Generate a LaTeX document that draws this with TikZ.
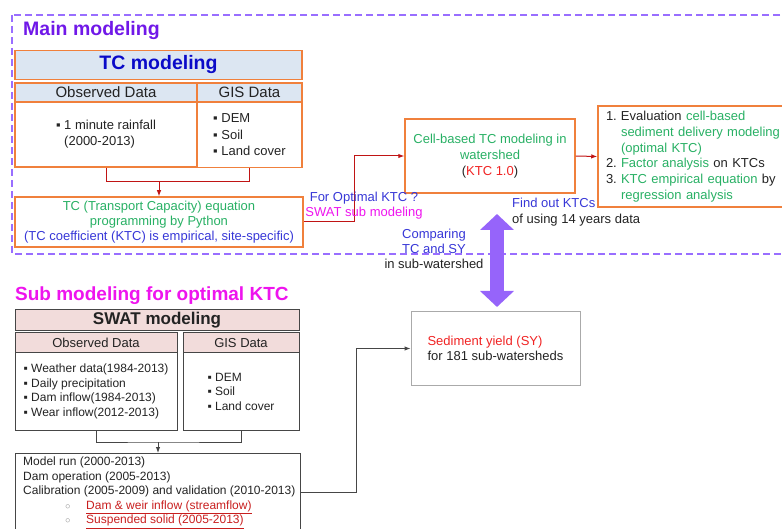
\documentclass[tikz,border=0pt]{standalone}
\usepackage{fontspec}
\setmainfont{Liberation Sans}
\usetikzlibrary{arrows.meta}

\definecolor{frameviolet}{RGB}{153,110,255}
\definecolor{titleviolet}{RGB}{112,24,232}
\definecolor{arrviolet}{RGB}{150,100,250}
\definecolor{tcorange}{RGB}{240,128,60}
\definecolor{headblue}{RGB}{220,230,242}
\definecolor{tcblue}{RGB}{10,10,200}
\definecolor{kgreen}{RGB}{40,176,100}
\definecolor{kblue}{RGB}{55,55,215}
\definecolor{kmagenta}{RGB}{238,20,238}
\definecolor{kred}{RGB}{240,35,35}
\definecolor{linered}{RGB}{192,20,20}
\definecolor{ulred}{RGB}{200,30,30}
\definecolor{pinkfill}{RGB}{242,220,219}
\definecolor{boxgray}{RGB}{70,70,70}
\definecolor{lightgray}{RGB}{170,170,170}
\definecolor{inkblack}{RGB}{35,35,35}

\newcommand\fsbody{\fontsize{13}{16}\selectfont}
\newcommand\fssub{\fontsize{12}{14.5}\selectfont}

\tikzset{
  lbl/.style={inner sep=0pt, text=inkblack, font=\fsbody},
  orangebox/.style={lbl, draw=tcorange, line width=1.5pt},
  bluehead/.style={orangebox, fill=headblue, font=\fontsize{15}{18}\selectfont},
  pinkhead/.style={lbl, draw=boxgray, line width=1pt, fill=pinkfill, font=\fontsize{13}{16}\selectfont},
  graybody/.style={lbl, draw=boxgray, line width=1pt, font=\fssub},
  mainframe/.style={draw=frameviolet, line width=1.8pt, dash pattern=on 7pt off 4pt},
  redline/.style={draw=linered, line width=1pt},
  grayline/.style={draw=boxgray, line width=1pt},
  flowtip/.style={-{Latex[length=6pt,width=4.5pt]}},
  twoway/.style={draw=arrviolet, line width=14pt,
    {Triangle[width=33pt,length=16pt]}-{Triangle[width=33pt,length=16pt]}}
}

\begin{document}
\begin{tikzpicture}[x=1pt,y=-1pt]
\useasboundingbox (0,0) rectangle (782,529);
\clip (0,0) rectangle (782,529);

% main modeling
\draw[mainframe] (12,15) rectangle (795,254);
\node[lbl, anchor=west, text=titleviolet, font=\fontsize{19.5}{22}\selectfont\bfseries] (maintitle) at (23,31) {Main modeling};

\node[bluehead, minimum width=287pt, minimum height=29pt, text=tcblue, font=\fontsize{19.5}{22}\selectfont\bfseries] (tchead) at (158.5,65) {TC modeling};
\node[bluehead, minimum width=182pt, minimum height=19pt] (tcobshead) at (106,92.5) {Observed Data};
\node[bluehead, minimum width=105pt, minimum height=19pt] (tcgishead) at (249.5,92.5) {GIS Data};
\node[orangebox, minimum width=182pt, minimum height=65pt, align=left] (tcobs) at (106,134.5) {▪ 1 minute rainfall\\\hphantom{▪ }(2000-2013)};
\node[orangebox, minimum width=105pt, minimum height=65pt, align=left, font=\fontsize{13}{16.5}\selectfont] (tcgis) at (249.5,135) {▪ DEM\\▪ Soil\\▪ Land cover};

\node[orangebox, minimum width=288pt, minimum height=50pt, align=center, font=\fontsize{13}{15}\selectfont] (tceq) at (159,222)
  {\textcolor{kgreen}{TC (Transport Capacity) equation}\\
   \textcolor{kgreen}{programming by Python}\\
   \textcolor{kblue}{(TC coefficient (KTC) is empirical, site-specific)}};

\coordinate (tcjoin) at ([yshift=15pt]tceq.north);
\draw[redline] (tcobs.south) |- (tcjoin) -| (tcgis.south);
\draw[redline, flowtip] (tcjoin) -- (tceq.north);

\node[orangebox, minimum width=170pt, minimum height=74pt, align=center] (cell) at (490,156)
  {\textcolor{kgreen}{Cell-based TC modeling in}\\
   \textcolor{kgreen}{watershed}\\
   (\textcolor{kred}{KTC 1.0})};
\node[orangebox, text width=189pt, inner xsep=8pt, minimum height=101pt, align=left, font=\fontsize{13}{15.7}\selectfont] (eval) at (700.5,156.5)
  {\makebox[15pt][l]{1.}Evaluation \textcolor{kgreen}{cell-based}\\
   \hspace*{15pt}\textcolor{kgreen}{sediment delivery modeling}\\
   \hspace*{15pt}\textcolor{kgreen}{(optimal KTC)}\\
   \makebox[15pt][l]{2.}\textcolor{kgreen}{Factor analysis} on KTCs\\
   \makebox[15pt][l]{3.}\textcolor{kgreen}{KTC empirical equation} by\\
   \hspace*{15pt}\textcolor{kgreen}{regression analysis}};

\draw[redline, flowtip] (tceq.east) -- ++(51,0) |- (cell.west);
\draw[redline, flowtip] (cell.east) -- (eval.west);

\node[lbl, align=center, font=\fontsize{13}{15}\selectfont] (optlbl) at (364,206)
  {\textcolor{kblue}{For Optimal KTC ?}\\\textcolor{kmagenta}{SWAT sub modeling}};
\node[lbl, anchor=west, align=left] (findlbl) at (512,212)
  {\textcolor{kblue}{Find out KTCs}\\of using 14 years data};

% comparing TC and SY
\coordinate (arrtop) at (497,214);
\coordinate (arrbot) at (497,307);
\draw[twoway] (arrtop) -- (arrbot);
\node[lbl, align=center, font=\fontsize{13}{15}\selectfont] (cmplbl) at (434,249)
  {\textcolor{kblue}{Comparing}\\\textcolor{kblue}{TC and SY}\\in sub-watershed};

\node[lbl, draw=lightgray, line width=1pt, minimum width=169pt, minimum height=73pt, align=left, font=\fontsize{13}{15}\selectfont] (sy) at (495.5,348.5)
  {\textcolor{kred}{Sediment yield (SY)}\\for 181 sub-watersheds};

% sub modeling
\node[lbl, anchor=west, text=kmagenta, font=\fontsize{19}{21}\selectfont\bfseries] (subtitle) at (15,296) {Sub modeling for optimal KTC};
\node[pinkhead, minimum width=284pt, minimum height=21pt, font=\fontsize{17}{19}\selectfont\bfseries] (swathead) at (157,320.5) {SWAT modeling};
\node[pinkhead, minimum width=162pt, minimum height=20pt] (swobshead) at (96,343) {Observed Data};
\node[pinkhead, minimum width=116pt, minimum height=20pt] (swgishead) at (241,343) {GIS Data};
\node[graybody, minimum width=162pt, minimum height=77pt, align=left] (swobs) at (96,391.5)
  {▪ Weather data(1984-2013)\\▪ Daily precipitation\\▪ Dam inflow(1984-2013)\\▪ Wear inflow(2012-2013)};
\node[graybody, minimum width=116pt, minimum height=77pt, align=left] (swgis) at (241,391.5)
  {▪ DEM\\▪ Soil\\▪ Land cover};

\node[graybody, anchor=north west, minimum width=285pt, minimum height=90pt] (runbox) at (15,453) {};
\node[lbl, anchor=north west, align=left, font=\fssub] (runtext) at (23,457)
  {Model run (2000-2013)\\
   Dam operation (2005-2013)\\
   Calibration (2005-2009) and validation (2010-2013)\\
   \hspace*{42pt}\makebox[21pt][l]{\textcolor{gray}{\fontsize{9}{9}\selectfont ○}}\textcolor{ulred}{\underline{Dam \& weir inflow (streamflow)}}\\
   \hspace*{42pt}\makebox[21pt][l]{\textcolor{gray}{\fontsize{9}{9}\selectfont ○}}\textcolor{ulred}{\underline{Suspended solid (2005-2013)}}};

\coordinate (swjoin) at ([yshift=11pt]runbox.north);
\draw[grayline] (swobs.south) |- (swjoin) -| (swgis.south);
\draw[grayline, flowtip] (swjoin) -- (runbox.north);

\coordinate (runout) at ([yshift=-39pt]runbox.north east);
\draw[grayline, flowtip] (runout) -- ++(55,0) |- (sy.west);
\end{tikzpicture}
\end{document}
